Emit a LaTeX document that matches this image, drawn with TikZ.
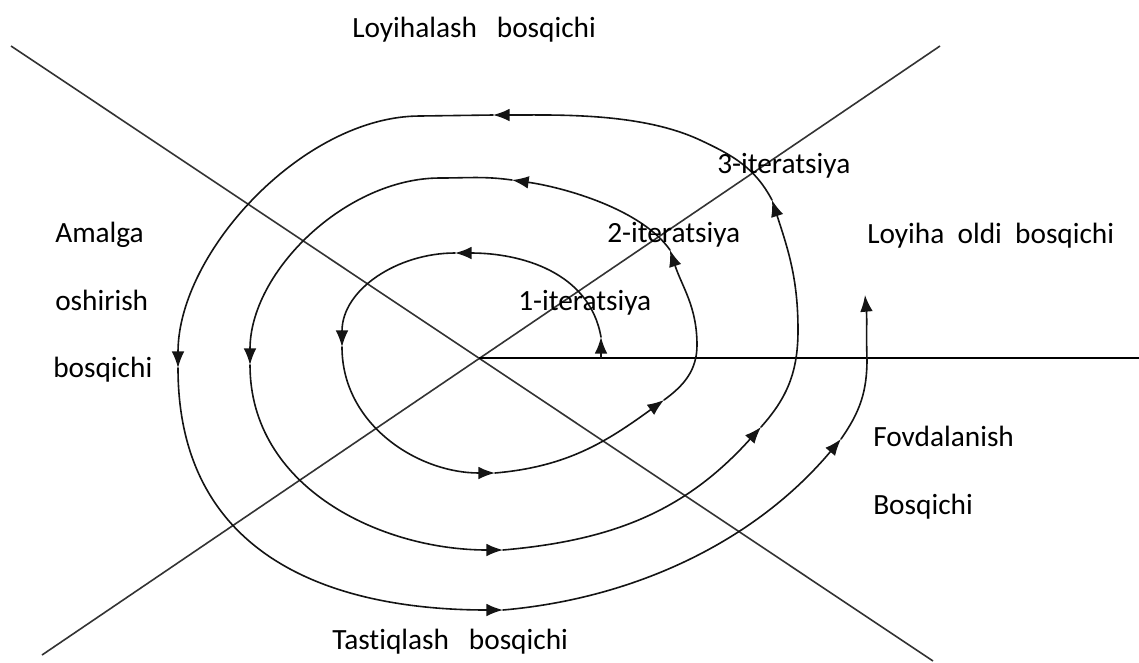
\documentclass[tikz,border=0pt]{standalone}
\usepackage{fontspec}
\setmainfont[Ligatures=NoCommon]{Carlito}
\usetikzlibrary{arrows.meta}
\begin{document}
\begin{tikzpicture}[x=0.75pt,y=0.75pt,
  axisline/.style={line width=1.2pt, draw=black!80},
  spiralline/.style={line width=1.2pt, draw=black!92, line cap=round, line join=round},
  spiralarrow/.style={spiralline, -{Latex[length=12.5pt,width=9.5pt]}},
  txt/.style={font=\fontsize{22}{26}\selectfont, text=black, inner sep=0pt, anchor=base west}]

\fill[white] (0,0) rectangle (1139,-662);
\useasboundingbox (0,0) rectangle (1139,-662);

% the three phase-dividing lines
\coordinate (O)  at (479,-358);
\coordinate (NW) at (11,-46);
\coordinate (SE) at (933,-661);
\coordinate (NE) at (940,-46);
\coordinate (SW) at (42,-655);
\coordinate (E)  at (1139,-358);
\draw[axisline] (NW) -- (SE);
\draw[axisline] (NE) -- (SW);
\draw[axisline, draw=black] (O) -- (E);

% waypoints of the spiral
\coordinate (s0)  at (601,-358);
\coordinate (s1)  at (601,-337);
\coordinate (s2)  at (455,-253);
\coordinate (s3)  at (342,-347);
\coordinate (s4)  at (495,-473);
\coordinate (s5)  at (664,-400);
\coordinate (s6)  at (697,-345);
\coordinate (s7)  at (670,-250);
\coordinate (s8)  at (512,-180);
\coordinate (s9)  at (440,-178);
\coordinate (s10) at (250,-365);
\coordinate (s11) at (503,-550);
\coordinate (s12) at (761,-427);
\coordinate (s13) at (798,-330);
\coordinate (s14) at (772,-200);
\coordinate (s15) at (700,-140);
\coordinate (s16) at (493,-115);
\coordinate (s17) at (420,-116);
\coordinate (s18) at (178,-368);
\coordinate (s19) at (503,-610);
\coordinate (s20) at (841,-439);
\coordinate (s21) at (867,-359);
\coordinate (s22) at (865,-295);

% first turn
\draw[spiralarrow] (s0) -- (s1);
\draw[spiralarrow] (s1) to[out=100,in=0] (s2);
\draw[spiralarrow] (s2) to[out=180,in=90] (s3);
\draw[spiralarrow] (s3) to[out=270,in=180] (s4);
\draw[spiralarrow] (s4) to[out=5,in=216] (s5);
\draw[spiralline]  (s5) to[out=36,in=270] (s6);
% second turn
\draw[spiralarrow] (s6) to[out=90,in=-72] (s7);
\draw[spiralarrow] (s7) to[out=125,in=-8,looseness=0.75] (s8);
\draw[spiralline]  (s8) to[out=172,in=0] (s9);
\draw[spiralarrow] (s9) to[out=180,in=90,looseness=0.9] (s10);
\draw[spiralarrow] (s10) to[out=270,in=180] (s11);
\draw[spiralarrow] (s11) to[out=5,in=228] (s12);
\draw[spiralline]  (s12) to[out=48,in=270] (s13);
% third turn
\draw[spiralarrow] (s13) to[out=90,in=-72] (s14);
\draw[spiralline]  (s14) to[out=118,in=-25] (s15);
\draw[spiralarrow] (s15) to[out=155,in=0,looseness=0.8] (s16);
\draw[spiralline]  (s16) -- (s17);
\draw[spiralarrow] (s17) to[out=180,in=90,looseness=0.85] (s18);
\draw[spiralarrow] (s18) to[out=270,in=180,looseness=1.15] (s19);
\draw[spiralarrow] (s19) to[out=5,in=230,looseness=0.9] (s20);
\draw[spiralline]  (s20) to[out=55,in=270] (s21);
\draw[spiralarrow] (s21) to[out=92,in=-85] (s22);

% phase names
\node[txt] (loyihalash) at (352,-37)  {Loyihalash\ \ \ bosqichi};
\node[txt] (tastiqlash) at (332,-649) {Tastiqlash\ \ \ bosqichi};
\node[txt] (oldi)       at (867,-243) {Loyiha\ \ oldi\ \ bosqichi};
\node[txt] (amalga1)    at (55,-242)  {Amalga};
\node[txt] (amalga2)    at (55,-310)  {oshirish};
\node[txt] (amalga3)    at (53,-377)  {bosqichi};
\node[txt] (foyda1)     at (873,-446) {Fovdalanish};
\node[txt] (foyda2)     at (873,-514) {Bosqichi};

% iteration labels
\node[txt] (it3) at (717,-173) {3-iteratsiya};
\node[txt] (it2) at (607,-242) {2-iteratsiya};
\node[txt] (it1) at (518,-310) {1-iteratsiya};
\end{tikzpicture}
\end{document}
